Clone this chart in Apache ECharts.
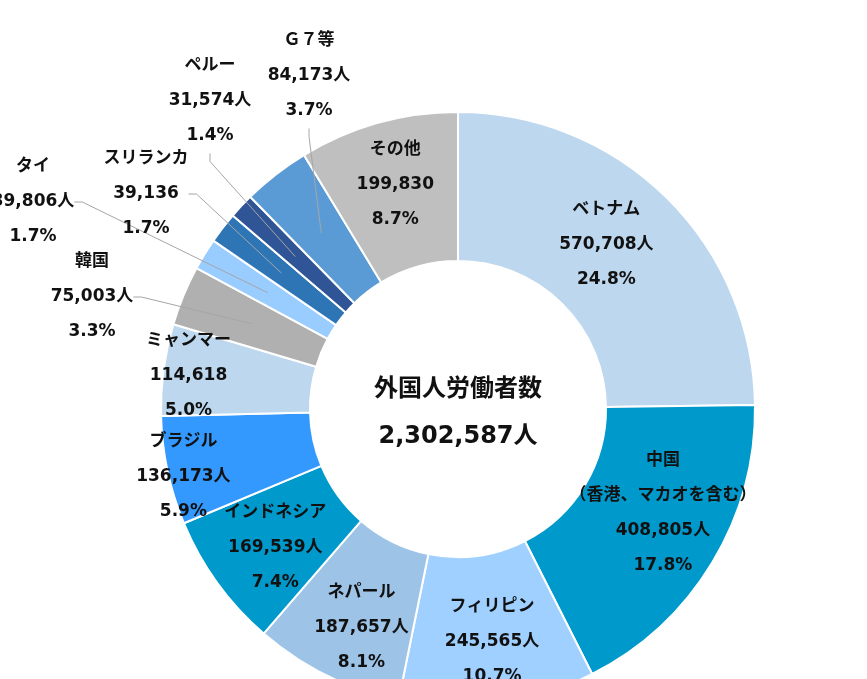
<!DOCTYPE html>
<html>
<head>
<meta charset="utf-8">
<script src="https://cdn.jsdelivr.net/npm/echarts@6/dist/echarts.min.js"></script>
<style>
html,body{margin:0;padding:0;background:#fff;}
#chart{width:867px;height:679px;}
</style>
</head>
<body>
<div id="chart"></div>
<script>
// ---- data ----
const categories = ['ベトナム','中国（香港、マカオを含む）','フィリピン','ネパール','インドネシア','ブラジル','ミャンマー','韓国','タイ','スリランカ','ペルー','Ｇ７等','その他'];
const values = [570708, 408805, 245565, 187657, 169539, 136173, 114618, 75003, 39806, 39136, 31574, 84173, 199830];
const noUnit = ['ミャンマー','スリランカ','その他'];
const centerTitle = '外国人労働者数';
const unit = '人';

// ---- styles / layout ----
const colors = ['#BDD7EE','#0099CC','#9FD0FF','#9DC3E6','#0099CC','#3399FF','#BDD7EE','#B0B0B0','#99CCFF','#2E75B6','#2F5597','#5B9BD5','#BFBFBF'];
const outsideSet = ['韓国','タイ','スリランカ','ペルー','Ｇ７等'];
const outsidePos = { '韓国':[92,297], 'タイ':[33,202], 'スリランカ':[146,194], 'ペルー':[210,101], 'Ｇ７等':[309,76] };
const insideShift = { 'ベトナム':[-10,-4], '中国（香港、マカオを含む）':[12,-13], 'フィリピン':[4,9], 'ネパール':[3,16], 'インドネシア':[0,6], 'ブラジル':[-54,21], 'ミャンマー':[-46,-3], 'その他':[-2,-7] };
const FONT = '"DejaVu Sans", "Noto Sans CJK JP", sans-serif';

const total = values.reduce((a, b) => a + b, 0);
const fmt = n => n.toLocaleString('en-US');

const labelText = p => {
  const name = p.name.replace('（', '\n（');
  const u = noUnit.includes(p.name) ? '' : unit;
  const pct = (p.value / total * 100).toFixed(1) + '%';
  return name + '\n' + fmt(p.value) + u + '\n' + pct;
};
const labelBase = {
  fontSize: 17, fontWeight: 'bold', fontFamily: FONT, color: '#111',
  lineHeight: 35, align: 'center', formatter: labelText
};

const mainData = categories.map((c, i) => ({
  name: c, value: values[i],
  itemStyle: { color: colors[i] },
  label: { show: !outsideSet.includes(c) }
}));
const guideData = categories.map((c, i) => ({
  name: c, value: values[i],
  label: { show: outsideSet.includes(c) },
  labelLine: { show: outsideSet.includes(c) }
}));

const chart = echarts.init(document.getElementById('chart'), null, { renderer: 'canvas' });
chart.setOption({
  animation: false,
  backgroundColor: '#fff',
  graphic: [
    { type: 'text', x: 458, y: 390, z: 100, style: { text: centerTitle, fontSize: 24, fontWeight: 'bold', fontFamily: FONT, fill: '#111', align: 'center', verticalAlign: 'middle' } },
    { type: 'text', x: 458, y: 437, z: 100, style: { text: fmt(total) + unit, fontSize: 24, fontWeight: 'bold', fontFamily: FONT, fill: '#111', align: 'center', verticalAlign: 'middle' } }
  ],
  series: [{
    type: 'pie',
    z: 2,
    center: [458, 409],
    radius: [148, 297],
    startAngle: 90,
    clockwise: true,
    avoidLabelOverlap: false,
    emphasis: { disabled: true },
    itemStyle: { borderColor: '#fff', borderWidth: 2 },
    label: Object.assign({ show: true, position: 'inside' }, labelBase),
    labelLine: { show: false },
    labelLayout: p => {
      const s = insideShift[categories[p.dataIndex]] || [0, 0];
      return { dx: s[0], dy: s[1] };
    },
    data: mainData
  }, {
    // transparent guide ring: leader lines for the small slices end mid-ring
    type: 'pie',
    z: 5,
    center: [458, 409],
    radius: [148, 223],
    startAngle: 90,
    clockwise: true,
    silent: true,
    avoidLabelOverlap: false,
    emphasis: { disabled: true },
    itemStyle: { color: 'rgba(0,0,0,0)', borderWidth: 0 },
    label: Object.assign({ show: true, position: 'outside' }, labelBase),
    labelLine: { show: true, length: 10, length2: 8, smooth: false, minTurnAngle: 0, lineStyle: { color: '#A6A6A6', width: 1 } },
    labelLayout: p => {
      const pos = outsidePos[categories[p.dataIndex]];
      if (!pos) return {};
      return { x: pos[0], y: pos[1], align: 'center', verticalAlign: 'middle' };
    },
    data: guideData
  }]
});
</script>
</body>
</html>
